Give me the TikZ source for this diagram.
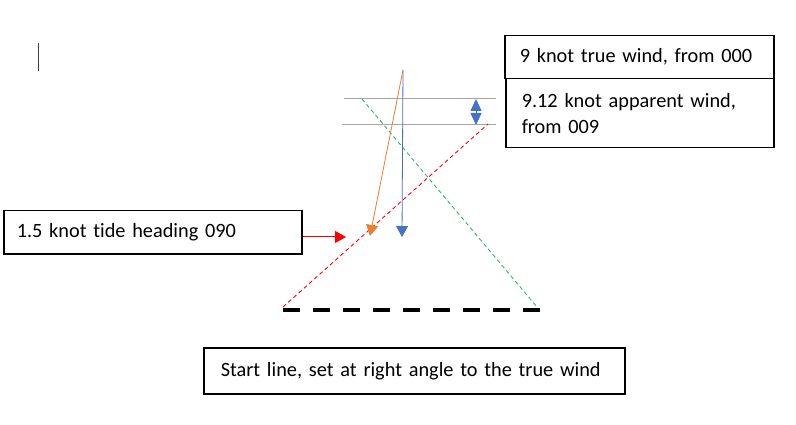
\documentclass[tikz,border=0pt]{standalone}
\usepackage{fontspec}
\setmainfont{Carlito}[Ligatures={NoCommon}]
\usetikzlibrary{arrows.meta}
\definecolor{offblue}{HTML}{4472C4}
\definecolor{offorange}{HTML}{ED7D31}
\definecolor{offgreen}{HTML}{2EB86B}
\definecolor{offgray}{HTML}{A6A6A6}
\begin{document}
\begin{tikzpicture}[x=1pt,y=-1pt,
  txtbox/.style={draw=black,line width=1.5pt,anchor=north west,align=left,
    font=\fontsize{20.3}{26}\selectfont,inner ysep=0pt},
  tri/.style={-{Triangle[width=12pt,length=11pt]}},
  reddash/.style={draw=red,line width=0.9pt,dash pattern=on 4pt off 3pt},
  greendash/.style={draw=offgreen,line width=0.9pt,dash pattern=on 4pt off 3pt},
  startline/.style={draw=black,line width=4pt,dash pattern=on 17pt off 13pt},
  grayline/.style={draw=offgray,line width=0.8pt}]
\useasboundingbox (0,0) rectangle (796,425);
\fill[white] (0,0) rectangle (796,425);

% boxes
\node[txtbox,minimum width=269pt,minimum height=43pt,text width=239pt,inner xsep=15pt] (tw) at (504,35) {9 knot true wind, from 000};
\node[txtbox,minimum width=268pt,minimum height=69pt,text width=236pt,inner xsep=16pt] (aw) at (505,78) {9.12 knot apparent wind,\\from 009};
\node[txtbox,minimum width=298pt,minimum height=43pt,text width=272pt,inner xsep=13pt] (tide) at (3,210) {1.5 knot tide heading 090};
\node[txtbox,minimum width=421pt,minimum height=46pt,text width=387pt,inner xsep=17pt] (sl) at (203,347) {Start line, set at right angle to the true wind};

% cursor mark
\coordinate (c1) at (38,43);
\coordinate (c2) at (38,71);
\draw[black!75,line width=1pt] (c1) -- (c2);

% coordinates
\coordinate (top) at (403,70);
\coordinate (blueend) at (402,237);
\coordinate (orangeend) at (370,236);
\coordinate (r1) at (283,307);
\coordinate (r2) at (488,124);
\coordinate (g1) at (362,99);
\coordinate (g2) at (537,307);
\coordinate (s1) at (283,310);
\coordinate (s2) at (542,310);
\coordinate (h1a) at (344,98);
\coordinate (h1b) at (496,98);
\coordinate (h2a) at (342,124);
\coordinate (h2b) at (496,124);
\coordinate (d1) at (476,99);
\coordinate (d2) at (476,125);
\coordinate (tideend) at (346,237);

% gray reference lines
\draw[grayline] (h1a) -- (h1b);
\draw[grayline] (h2a) -- (h2b);

% dashed lines
\draw[reddash] (r1) -- (r2);
\draw[greendash] (g1) -- (g2);
\draw[startline] (s1) -- (s2);

% wind vectors
\draw[offblue,line width=0.8pt,tri] (top) -- (blueend);
\draw[offorange,line width=0.8pt,tri] (top) -- (orangeend);

% double arrow
\draw[offblue,line width=0.8pt,{Triangle[width=11pt,length=12pt]}-{Triangle[width=11pt,length=12pt]}] (d1) -- (d2);

% tide arrow
\draw[red,line width=1pt,tri] (tide.east |- tideend) -- (tideend);
\end{tikzpicture}
\end{document}
